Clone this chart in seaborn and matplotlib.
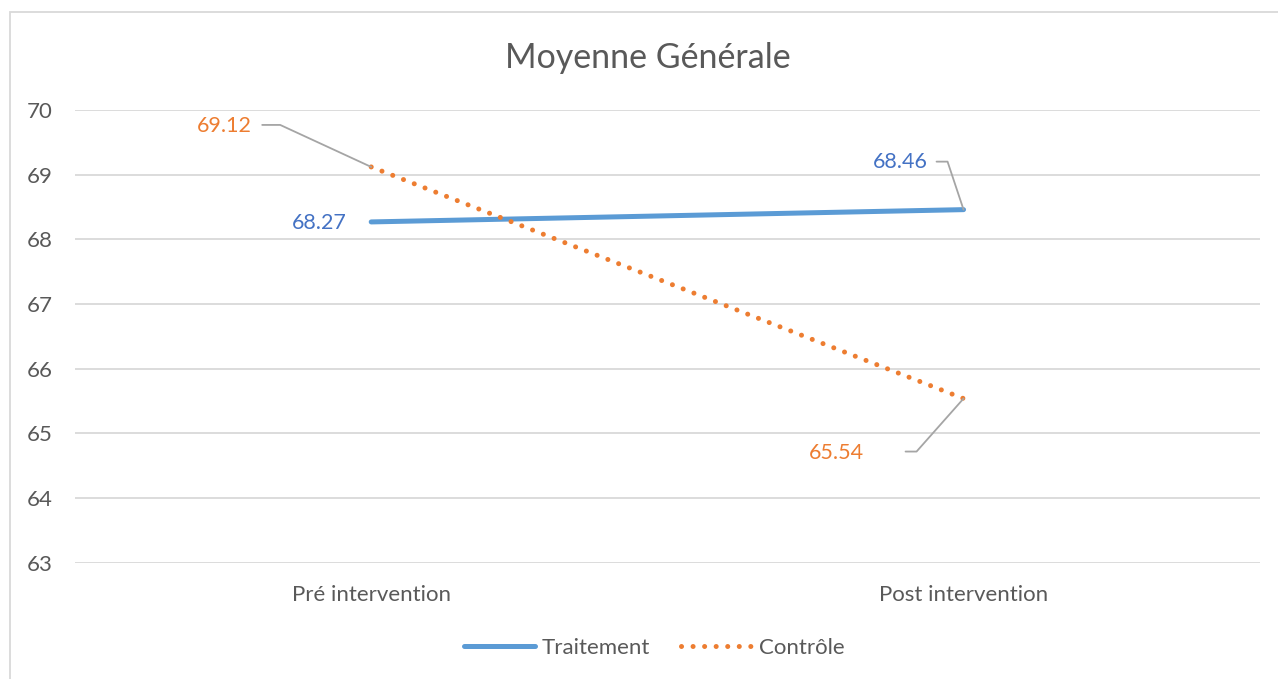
import math

import matplotlib
matplotlib.use("Agg")
import matplotlib.pyplot as plt
import seaborn as sns
import pandas as pd
from matplotlib.lines import Line2D
from matplotlib.patches import Rectangle

phases = ["Pré intervention", "Post intervention"]
traitement = [68.27, 68.46]
controle = [69.12, 65.54]
groups = ["Traitement", "Contrôle"]

BLUE = "#5B9BD5"
BLUE_TXT = "#4472C4"
ORANGE = "#ED7D31"
GREY_TXT = "#595959"
GRID = "#D9D9D9"

sns.set_style("whitegrid")
plt.rcParams["font.family"] = ["Lato", "DejaVu Sans"]

df = pd.DataFrame({
    "Phase": phases * 2,
    "Moyenne": traitement + controle,
    "Groupe": [groups[0]] * 2 + [groups[1]] * 2,
})

fig = plt.figure(figsize=(12.78, 6.79), dpi=100)
ax = fig.add_axes([0.0587, 0.171, 0.927, 0.667])

lw = 3.6
dot = (0, (0.01, 2.3))
sns.lineplot(data=df[df["Groupe"] == groups[0]], x="Phase", y="Moyenne",
             color=BLUE, lw=lw, solid_capstyle="round", sort=False, ax=ax)
sns.lineplot(data=df[df["Groupe"] == groups[1]], x="Phase", y="Moyenne",
             color=ORANGE, lw=lw, linestyle=dot, dash_capstyle="round",
             sort=False, ax=ax)

ax.set_xlim(-0.5, 1.5)
ax.set_ylim(63, 70)
ax.set_yticks(range(63, 71))
ax.grid(axis="y", color=GRID, lw=1.3)
ax.grid(axis="x", visible=False)
for s in ax.spines.values():
    s.set_visible(False)
ax.set_xlabel("")
ax.set_ylabel("")
ax.tick_params(axis="both", length=0, labelsize=16, labelcolor=GREY_TXT)
ax.tick_params(axis="y", pad=16)
ax.tick_params(axis="x", pad=16)

fig.text(0.507, 0.914, "Moyenne Générale", ha="center", va="center",
         fontsize=24.5, color=GREY_TXT)

# data labels: (x index, value, colour, text offset px, leader start px, corner px)
labels = [
    (0, controle[0], ORANGE, (-119, 41), (-109, 42), (-91, 42)),
    (0, traitement[0], BLUE_TXT, (-24, -1), None, None),
    (1, traitement[1], BLUE_TXT, (-36, 48), (-27, 48), (-16, 48)),
    (1, controle[1], ORANGE, (-100, -54), (-58, -53), (-47, -53)),
]
for xi, val, col, off, start, corner in labels:
    ax.annotate(f"{val:.2f}", xy=(xi, val), xytext=off, textcoords="offset pixels",
                ha="right", va="center", fontsize=15.5, color=col)
    if start is not None:
        ang = math.degrees(math.atan2(corner[1], corner[0]))
        ax.annotate("", xy=(xi, val), xytext=start, textcoords="offset pixels",
                    arrowprops=dict(arrowstyle="-", color="#A5A5A5", lw=1.3,
                                    shrinkA=0, shrinkB=0,
                                    connectionstyle=f"angle,angleA=0,angleB={ang},rad=0"))

handles = [
    Line2D([], [], color=BLUE, lw=lw, solid_capstyle="round"),
    Line2D([], [], color=ORANGE, lw=lw, linestyle=dot, dash_capstyle="round"),
]
leg = fig.legend(handles, groups, loc="center", bbox_to_anchor=(0.512, 0.046),
                 ncol=2, frameon=False, fontsize=16, handlelength=3.2,
                 handletextpad=0.3, columnspacing=1.4)
for t in leg.get_texts():
    t.set_color(GREY_TXT)

fig.patches.append(Rectangle((10 / 1278, -0.01), 1.2, 1 - 12 / 679 + 0.01,
                             transform=fig.transFigure, fill=False,
                             edgecolor=GRID, lw=1.3))

fig.savefig("out.png", dpi=100)
